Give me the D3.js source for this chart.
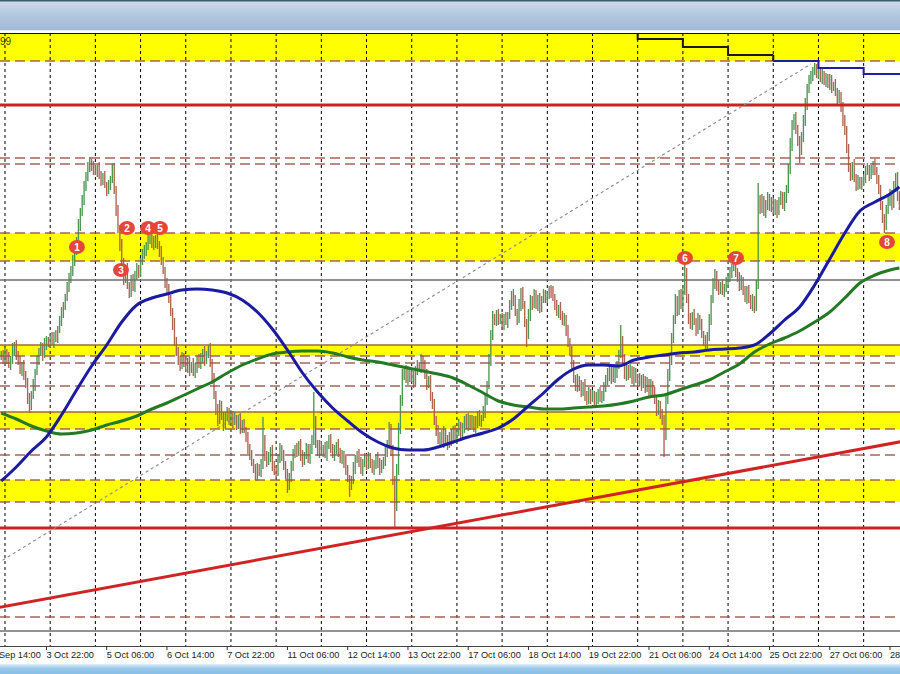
<!DOCTYPE html>
<html><head><meta charset="utf-8">
<script src="https://cdn.jsdelivr.net/npm/d3@7"></script>
<style>html,body{margin:0;padding:0;background:#fff;overflow:hidden}</style>
</head><body>
<svg id="c" width="900" height="674"></svg>
<script>
// Prices stored as pips above BASE (price = BASE + v/10000), hourly bars
const BASE = 0.95;
const closes = [306,301,
309,303,296,301,311,316,306,299,291,296,286,276,263,256,266,276,289,301,309,313,306,316,321,318,
323,319,326,323,331,339,349,356,363,373,383,391,399,411,421,436,449,461,473,485,493,499,496,491,
489,493,486,481,483,476,471,476,481,491,471,451,433,416,399,381,391,376,369,381,373,386,393,389,
399,406,411,416,421,423,416,419,423,416,409,399,391,379,371,361,349,336,321,309,301,296,303,299,
293,299,291,296,289,293,301,296,303,309,301,306,311,299,283,266,251,241,256,246,236,243,249,241,
246,239,243,236,241,233,237,231,223,213,206,199,191,186,193,189,196,221,206,199,203,211,196,191,
189,201,213,206,196,186,176,183,196,206,213,209,216,206,199,206,213,203,211,221,241,216,209,215,
209,213,206,216,221,213,206,211,216,209,201,206,199,191,183,176,181,193,201,206,199,191,199,203,
196,203,199,191,196,203,199,191,196,201,209,216,231,211,181,156,191,231,261,286,291,281,289,283,
286,279,289,296,293,301,296,286,276,281,266,256,241,231,221,226,219,229,221,216,226,221,231,223,
229,236,226,233,241,236,243,236,241,233,239,246,239,243,249,261,276,301,326,343,339,346,341,343,
336,343,339,346,356,366,361,349,341,356,369,356,339,326,346,361,356,366,356,363,353,361,366,363,
366,371,369,363,356,349,353,346,339,343,331,319,309,296,283,273,281,276,269,276,266,261,269,263,
266,259,263,269,263,266,273,281,289,283,291,283,289,296,306,321,301,286,293,286,291,281,289,283,
279,283,276,281,273,279,271,276,269,261,251,256,246,241,226,261,286,301,321,341,361,351,366,356,
371,389,361,343,336,346,339,331,343,336,326,321,316,326,341,361,376,386,376,371,376,369,373,379,
383,389,393,396,389,383,376,381,369,363,371,363,356,361,353,376,461,453,461,449,456,463,453,459,
451,456,449,461,465,456,463,471,491,516,536,543,531,521,511,523,541,556,571,581,586,591,593,587,
589,583,587,579,583,577,581,573,576,569,563,566,553,541,531,511,493,486,496,483,476,481,475,479,
483,489,493,486,491,496,489,483,471,456,441,436,451,461,466,456,473,483,466,456];
const upperWick = [4,5,
5,3,6,4,7,3,5,4,6,3,5,4,7,5,4,6,3,5,4,6,5,7,4,3,
4,6,3,5,4,6,5,3,4,6,5,4,7,5,3,6,4,5,7,4,6,5,3,4,
5,3,6,4,5,7,3,5,4,6,7,4,5,3,6,4,5,7,3,5,6,4,5,3,
4,6,5,3,7,4,5,6,3,5,4,6,5,3,4,6,5,4,7,3,5,4,6,5,
6,4,5,3,7,5,4,6,5,3,6,4,5,7,3,5,4,6,5,4,3,6,5,4,
5,4,6,3,5,7,4,5,3,6,4,5,3,6,5,4,6,23,5,4,6,3,5,4,
4,6,5,3,5,4,6,5,4,6,3,5,4,6,5,3,5,4,6,5,28,4,5,6,
5,3,6,4,5,6,4,5,3,6,4,5,4,6,5,3,4,6,5,4,6,5,3,5,
4,6,5,3,5,4,6,4,5,3,6,5,8,6,5,4,6,7,5,6,4,5,6,4,
5,4,6,5,3,6,4,5,6,4,5,3,6,4,5,3,5,6,4,5,3,6,4,5,
4,6,3,5,4,6,5,3,5,4,6,4,5,3,6,5,4,6,5,7,4,5,6,4,
5,4,6,3,5,4,6,5,3,6,4,5,4,3,6,5,4,6,5,3,5,4,6,5,
4,4,5,6,4,5,3,6,4,5,3,5,4,6,5,3,6,4,5,3,6,4,5,3,
5,4,6,3,5,4,6,5,4,6,5,3,6,4,5,15,4,6,5,3,6,4,5,4,
4,5,3,6,4,5,3,6,4,5,3,5,4,6,5,4,6,5,7,5,6,4,5,6,
5,10,4,6,5,3,6,4,5,3,6,4,5,3,6,5,7,6,4,5,3,6,4,5,
4,5,4,3,5,4,6,5,3,6,4,5,3,6,4,5,17,5,6,4,5,6,4,5,
4,6,5,3,5,4,6,5,6,7,5,4,6,5,4,6,5,7,6,5,4,3,5,4,
5,4,6,3,5,4,6,5,3,6,4,5,3,6,5,4,6,5,3,6,4,5,3,5,
4,6,5,3,5,4,6,5,3,5,4,6,5,4,6,5,7,5,6,4];
const lowerWick = [5,4,
4,6,3,5,4,6,5,3,4,6,5,3,6,8,5,4,6,3,5,4,6,3,5,4,
5,3,6,4,5,3,4,6,5,3,4,5,6,4,5,3,6,4,5,3,5,4,6,5,
3,5,4,6,5,3,6,4,5,3,4,6,5,6,4,5,3,4,6,5,3,4,5,6,
5,3,4,6,5,4,3,5,6,4,5,3,4,6,5,3,4,5,6,4,5,6,4,5,
4,5,6,3,4,6,5,3,4,5,6,4,3,5,6,4,5,6,4,5,6,4,3,5,
4,6,3,5,4,6,5,3,4,6,5,4,3,5,6,4,5,4,6,5,3,4,6,5,
5,4,3,6,5,4,8,5,4,6,3,5,4,6,5,3,4,5,6,4,5,3,4,6,
4,5,3,6,4,5,3,6,4,5,3,4,6,5,4,12,5,4,6,3,5,4,6,5,
5,4,6,3,5,4,6,5,3,4,6,5,4,6,5,23,6,5,4,6,5,3,5,4,
4,6,5,3,4,5,6,4,5,3,6,4,5,6,4,5,3,6,4,5,3,6,4,5,
5,4,6,3,5,4,6,5,3,4,5,6,4,5,3,6,5,4,6,5,3,4,5,4,
4,5,3,6,4,5,6,4,5,3,6,4,5,12,4,6,5,3,4,6,5,4,3,5,
5,4,6,3,5,4,6,5,3,4,6,5,4,6,5,3,4,6,5,4,6,5,4,6,
4,5,3,6,4,5,6,4,5,3,6,4,5,6,4,3,5,4,6,5,3,4,6,5,
5,4,6,3,5,4,6,5,3,4,6,5,4,5,22,5,4,6,5,3,4,6,5,4,
4,5,3,6,4,5,3,6,4,5,3,6,5,4,6,5,3,4,6,5,4,3,5,4,
5,4,6,3,5,4,6,5,3,4,6,5,4,6,5,3,4,6,5,4,6,5,3,4,
4,5,6,3,5,4,6,5,3,4,6,5,4,6,13,5,4,6,5,3,4,6,5,4,
5,4,6,3,5,4,6,5,3,4,6,5,4,6,5,3,4,6,5,4,6,5,3,4,
4,5,3,6,4,5,3,6,4,5,3,8,5,4,6,5,3,4,6,5];

// Moving averages, sampled every MA_STEP bars (last value at the final bar)
const MA_STEP = 8;
const maBlue = [180,194,210,224,246,271,295,316,339,356,363,367,371,372,371,368,361,349,332,311,288,269,253,240,228,219,213,211,211,214,219,224,228,233,242,255,268,282,292,296,296,295,301,304,306,308,309,311,312,313,316,327,341,354,376,402,428,450,459,467,474];
const maGreen = [248,242,235,230,227,228,231,236,240,245,252,258,265,272,279,288,296,302,307,309,310,310,308,304,301,299,296,293,290,287,283,276,268,260,256,254,252,252,253,254,255,257,260,264,266,271,276,281,289,297,309,317,323,330,339,349,363,378,386,391,393];

const tickLabels = ["30 Sep 14:00","3 Oct 22:00","5 Oct 06:00","6 Oct 14:00","7 Oct 22:00","11 Oct 06:00","12 Oct 14:00","13 Oct 22:00","17 Oct 06:00","18 Oct 14:00","19 Oct 22:00","21 Oct 06:00","24 Oct 14:00","25 Oct 22:00","27 Oct 06:00","28 Oct 14:00"];
const tickBars = [-8,24,56,88,120,152,184,216,248,280,312,344,376,408,440,472];
const dayStartBars = [2,26,50,74,98,122,146,170,194,218,242,266,290,314,338,362,386,410,434,458];

const bandLo = [600,400,305,232,159];
const bandHi = [640,428,316,249,181];
const dashedLevels = [600,503,497,428,400,305,298,275,232,206,181,159,44];
const solidBrownLevels = [316,249];
const grayLevels = [381,30];
const redLevels = [556,133];
const redTrendBars = [0,477], redTrendVals = [54,219];
const dotTrendBars = [0,430], dotTrendVals = [100,597];
const stepBars = [338,362,386,410,434,458,478];
const stepVals = [622,614,606,600,593,587];
const markerLabels = ["1","2","3","4","5","6","7","8"];
const markerBars = [40.2,66.8,63.6,78.0,84.3,363.1,390.2,470.4];
const markerVals = [414,433,391,433,433,403,403,419];

(function(){
if (closes.length!==478||upperWick.length!==478||lowerWick.length!==478) throw new Error("len "+closes.length+" "+upperWick.length+" "+lowerWick.length);

const P = v => BASE + v/10000;
const W = 900, H = 674, yTop = 33, yBot = 646;
const x = d3.scaleLinear().domain([0,477]).range([1.23, 1.23+477*1.883]);
const y = d3.scaleLinear().domain([0.9515, 1.0128]).range([yBot, yTop]);

const svg = d3.select("#c");
const defs = svg.append("defs");
const g1 = defs.append("linearGradient").attr("id","tb").attr("x1",0).attr("y1",0).attr("x2",0).attr("y2",1);
g1.append("stop").attr("offset","0").attr("stop-color","#cfdcec");
g1.append("stop").attr("offset","0.5").attr("stop-color","#b4c7e0");
g1.append("stop").attr("offset","1").attr("stop-color","#a3b9d7");
const g2 = defs.append("linearGradient").attr("id","bb").attr("x1",0).attr("y1",0).attr("x2",0).attr("y2",1);
g2.append("stop").attr("offset","0").attr("stop-color","#e2eef8");
g2.append("stop").attr("offset","0.4").attr("stop-color","#9ecbec");
g2.append("stop").attr("offset","1").attr("stop-color","#86bce6");
defs.append("clipPath").attr("id","plot").append("rect").attr("x",0).attr("y",yTop).attr("width",W).attr("height",yBot-yTop);

svg.append("rect").attr("width",W).attr("height",H).attr("fill","#fff");
svg.append("rect").attr("x",0).attr("y",0).attr("width",W).attr("height",30).attr("fill","url(#tb)");
svg.append("rect").attr("x",0).attr("y",0).attr("width",W).attr("height",1.5).attr("fill","#3d5c6b");
svg.append("rect").attr("x",0).attr("y",30).attr("width",W).attr("height",1).attr("fill","#e6edf5");
svg.append("rect").attr("x",0).attr("y",664).attr("width",W).attr("height",10).attr("fill","url(#bb)");

const plot = svg.append("g").attr("clip-path","url(#plot)");

plot.selectAll("rect.band").data(bandLo).join("rect").attr("class","band")
  .attr("x",0).attr("width",W)
  .attr("y",(d,i)=>y(P(bandHi[i]))).attr("height",(d,i)=>y(P(d))-y(P(bandHi[i])))
  .attr("fill","#ffff00");

plot.selectAll("line.grid").data(dayStartBars).join("line").attr("class","grid")
  .attr("x1",d=>x(d)).attr("x2",d=>x(d)).attr("y1",yTop).attr("y2",yBot)
  .attr("stroke","#000").attr("stroke-width",1).attr("stroke-dasharray","3,3");

const bars = closes.map((c,i)=>{
  const o = i>0 ? closes[i-1] : c;
  return {i, up: c>=o, hi: Math.max(o,c)+upperWick[i], lo: Math.min(o,c)-lowerWick[i]};
});
plot.selectAll("line.bar").data(bars).join("line").attr("class","bar")
  .attr("x1",d=>x(d.i)).attr("x2",d=>x(d.i))
  .attr("y1",d=>y(P(d.hi))).attr("y2",d=>y(P(d.lo)))
  .attr("stroke",d=>d.up?"#4f9553":"#ad6450").attr("stroke-width",1.35);

const hline = (arr, cls, color, w, dash) => plot.selectAll("line."+cls).data(arr).join("line").attr("class",cls)
  .attr("x1",0).attr("x2",W).attr("y1",d=>y(P(d))).attr("y2",d=>y(P(d)))
  .attr("stroke",color).attr("stroke-width",w).attr("stroke-dasharray",dash);
hline(dashedLevels,"dl","#9c5448",1.5,"10,5").attr("opacity",0.9);
hline(solidBrownLevels,"sl","#9a6a3c",1.5,null);
hline(grayLevels,"gl","#6e6e6e",1.6,null);
hline(redLevels,"rl","#cc2222",3,null);

const trend = (bs, vals, b0, b1) => {
  const s = (vals[1]-vals[0])/(bs[1]-bs[0]);
  return [[b0, vals[0]+s*(b0-bs[0])],[b1, vals[0]+s*(b1-bs[0])]];
};
const lineGen = d3.line().x(d=>x(d[0])).y(d=>y(P(d[1])));
plot.append("path").attr("d",lineGen(trend(dotTrendBars,dotTrendVals,-2,dotTrendBars[1])))
  .attr("fill","none").attr("stroke","#8a8a8a").attr("stroke-width",1.1).attr("stroke-dasharray","3,3");
plot.append("path").attr("d",lineGen(trend(redTrendBars,redTrendVals,-2,480)))
  .attr("fill","none").attr("stroke","#d02424").attr("stroke-width",3);

const maIdx = i => Math.min(i*MA_STEP, 477);
const maLine = d3.line().curve(d3.curveMonotoneX).x((d,i)=>x(maIdx(i))).y(d=>y(P(d)));
plot.append("path").attr("d",maLine(maGreen)).attr("fill","none").attr("stroke","#237a23").attr("stroke-width",3);
plot.append("path").attr("d",maLine(maBlue)).attr("fill","none").attr("stroke","#1b1ba0").attr("stroke-width",3);

const step = d3.line().curve(d3.curveStepAfter).x(d=>x(d[0])).y(d=>y(P(d[1])));
const stepPts = stepVals.map((v,i)=>[stepBars[i],v]);
plot.append("path").attr("d",step([[stepBars[0]-0.01,640]].concat(stepPts.slice(0,3),[[stepBars[3],stepVals[2]]])))
  .attr("fill","none").attr("stroke","#1a1a1a").attr("stroke-width",2);
plot.append("line").attr("x1",x(stepBars[3])).attr("x2",x(stepBars[3])).attr("y1",y(P(stepVals[2]))).attr("y2",y(P(stepVals[3])))
  .attr("stroke","#1a1a1a").attr("stroke-width",2);
plot.append("path").attr("d",step(stepPts.slice(3).concat([[stepBars[6],stepVals[5]]])))
  .attr("fill","none").attr("stroke","#1e1e9a").attr("stroke-width",2);

svg.append("line").attr("x1",0).attr("x2",W).attr("y1",yTop+0.5).attr("y2",yTop+0.5).attr("stroke","#111").attr("stroke-width",1);
svg.append("text").attr("x",0).attr("y",45).text("99").attr("font-family","Liberation Sans, Arial, sans-serif").attr("font-size",10).attr("fill","#3b3b10");

const mk = svg.append("g");
markerLabels.forEach((t,i)=>{
  const cx = x(markerBars[i]), cy = y(P(markerVals[i]));
  mk.append("ellipse").attr("cx",cx).attr("cy",cy).attr("rx",8).attr("ry",7).attr("fill","#e5463b");
  mk.append("text").attr("x",cx).attr("y",cy+3.6).attr("text-anchor","middle").text(t)
    .attr("font-family","Liberation Sans, Arial, sans-serif").attr("font-size",10).attr("font-weight","bold").attr("fill","#fff");
});

svg.append("line").attr("x1",0).attr("x2",W).attr("y1",yBot+0.5).attr("y2",yBot+0.5).attr("stroke","#444").attr("stroke-width",1);
const ax = svg.append("g");
ax.selectAll("line").data(tickBars).join("line")
  .attr("x1",d=>x(d)).attr("x2",d=>x(d)).attr("y1",yBot).attr("y2",yBot+4).attr("stroke","#333");
ax.selectAll("text").data(tickBars).join("text")
  .attr("x",d=>x(d)).attr("y",658).text((d,i)=>tickLabels[i])
  .attr("font-family","Liberation Sans, Arial, sans-serif").attr("font-size",9.2).attr("fill","#222");
})();
</script>
</body></html>
